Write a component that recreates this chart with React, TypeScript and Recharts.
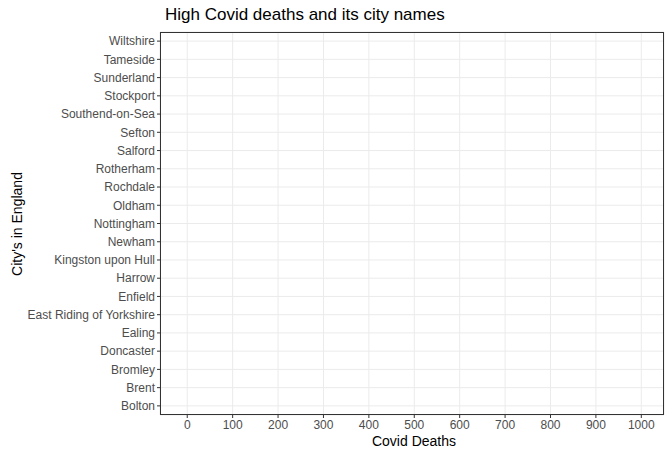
import { Bar, BarChart, CartesianGrid, XAxis, YAxis } from "recharts";

const cities = [
  "Wiltshire", "Tameside", "Sunderland", "Stockport", "Southend-on-Sea", "Sefton", "Salford",
  "Rotherham", "Rochdale", "Oldham", "Nottingham", "Newham", "Kingston upon Hull", "Harrow",
  "Enfield", "East Riding of Yorkshire", "Ealing", "Doncaster", "Bromley", "Brent", "Bolton",
];
const deaths = [771, 700, 771, 713, 665, 780, 678, 742, 661, 687, 694, 742, 670, 703, 740, 744, 738, 795, 670, 789, 676];
const xTicks = [0, 100, 200, 300, 400, 500, 600, 700, 800, 900, 1000];

const data = cities.map((city, i) => ({ city, deaths: deaths[i] }));

const font = "Arial, 'Liberation Sans', sans-serif";

export default function App() {
  return (
    <div style={{ position: "absolute", left: 0, top: 0, width: 671, height: 458, background: "#fff", fontFamily: font }}>
      <div style={{ position: "absolute", left: 165, top: 5, fontSize: 17, color: "#000" }}>
        High Covid deaths and its city names
      </div>
      <div style={{ position: "absolute", left: 17, top: 224, fontSize: 14, transform: "translate(-50%,-50%) rotate(-90deg)", whiteSpace: "nowrap" }}>
        City's in England
      </div>
      <div style={{ position: "absolute", left: 414, top: 441, fontSize: 14, transform: "translate(-50%,-50%)" }}>
        Covid Deaths
      </div>
      <BarChart
        width={671}
        height={458}
        data={data}
        layout="vertical"
        margin={{ top: 32, right: 7, bottom: 23, left: 0 }}
        barCategoryGap="50%"
      >
        <CartesianGrid stroke="#ebebeb" />
        <XAxis
          type="number"
          domain={[-60, 1050]}
          ticks={xTicks}
          allowDataOverflow
          tick={{ fontSize: 12, fill: "#4d4d4d", fontFamily: font }}
          tickLine={{ stroke: "#333" }}
          axisLine={false}
          tickSize={3}
          height={20}
        />
        <YAxis
          type="category"
          dataKey="city"
          width={160}
          tick={{ fontSize: 12, fill: "#4d4d4d", fontFamily: font }}
          tickLine={{ stroke: "#333" }}
          axisLine={false}
          tickSize={3}
          interval={0}
        />
        <Bar dataKey="deaths" fill="#ffc65c" isAnimationActive={false} />
      </BarChart>
      <div style={{ position: "absolute", left: 160, top: 32, width: 504, height: 383, border: "1px solid #333", boxSizing: "border-box", pointerEvents: "none" }} />
    </div>
  );
}
